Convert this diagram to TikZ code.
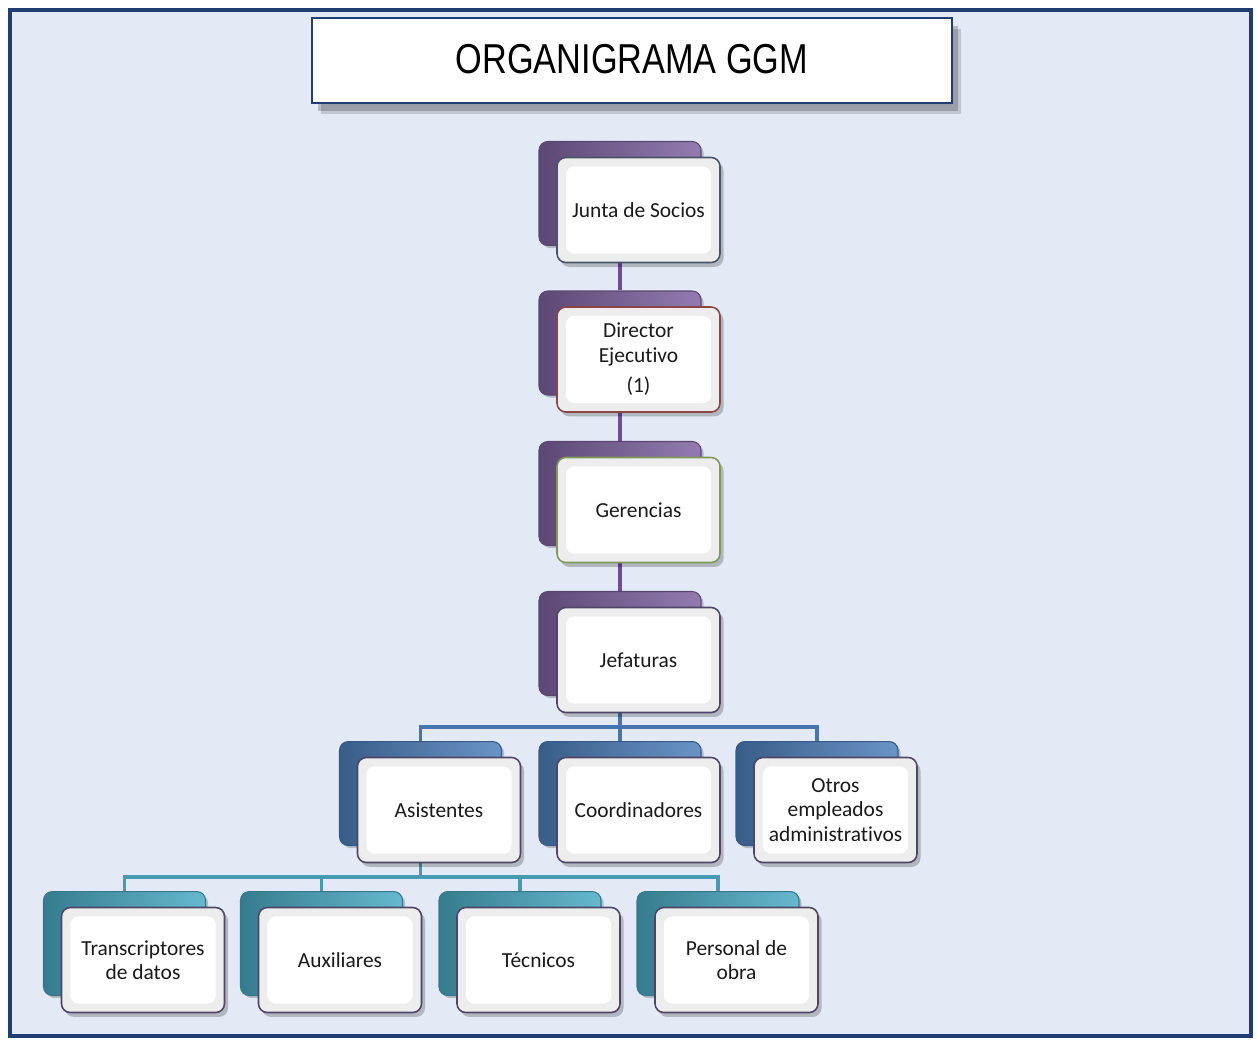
\documentclass[tikz,border=0pt]{standalone}
\usepackage{fontspec}
\setmainfont{Carlito}[Ligatures=NoCommon]
\newfontfamily\titlefont{Liberation Sans}
\usetikzlibrary{shadows}
\pgfdeclarelayer{bglayer}
\pgfdeclarelayer{connlayer}
\pgfsetlayers{bglayer,connlayer,main}
\definecolor{bgblue}{HTML}{E3EAF6}
\definecolor{frameblue}{HTML}{1F3F74}
\definecolor{purp}{HTML}{8064A2}
\definecolor{purpline}{HTML}{7347A6}
\definecolor{blu}{HTML}{4F81BD}
\definecolor{teal2}{HTML}{4BACC6}
\definecolor{bdgray}{HTML}{4A5468}
\definecolor{bdred}{HTML}{8A4545}
\definecolor{bdgreen}{HTML}{7F9A55}
\definecolor{bdpurp}{HTML}{4E4666}
\definecolor{txt}{HTML}{1A1A1A}
\tikzset{
  backbox/.style={rounded corners=5pt, minimum width=3.24cm, minimum height=2.08cm,
    draw=#1!70!black, line width=0.6pt, left color=#1!72!black, middle color=#1, right color=#1!85!white,
    drop shadow={shadow xshift=1.5pt, shadow yshift=-1.5pt, opacity=0.2, fill=black}},
  frontbox/.style={rounded corners=5pt, minimum width=3.26cm, minimum height=2.1cm,
    draw=#1, line width=0.9pt, fill=black!7, align=center, text=txt,
    font=\fontsize{12.2}{13.8}\selectfont,
    drop shadow={shadow xshift=2pt, shadow yshift=-2.5pt, opacity=0.22, fill=black},
    path picture={\fill[white] ([shift={(5pt,-5pt)}]path picture bounding box.north west)
      rectangle ([shift={(-5pt,5pt)}]path picture bounding box.south east);}},
  titlebox/.style={draw=frameblue, line width=1.2pt, fill=white,
    minimum width=12.8cm, minimum height=1.7cm,
    drop shadow={shadow xshift=5pt, shadow yshift=-6pt, opacity=0.15, fill=black},
    drop shadow={shadow xshift=3.5pt, shadow yshift=-4.5pt, opacity=0.2, fill=black}},
  connpurp/.style={draw=purpline, line width=2.2pt},
  connblue/.style={draw=blu!90!black, line width=1.8pt},
  connteal/.style={draw=teal2!90!black, line width=1.8pt}
}
\newcommand\orgnode[6]{%
  \node[backbox=#4] (#1-b) at (#2-18.5,#3-16.5) {};
  \node[frontbox=#5] (#1) at (#2,#3) {#6};
}
\begin{document}
\begin{tikzpicture}[x=0.02cm,y=-0.02cm]
\useasboundingbox (0,0) rectangle (1257,1039);
\begin{pgfonlayer}{bglayer}
  \fill[white] (0,0) rectangle (1257,1039);
  \fill[bgblue] (10,10) rectangle (1251,1036);
  \draw[frameblue, line width=2.6pt] (10,10) rectangle (1251,1036);
\end{pgfonlayer}

\node[titlebox] (title) at (632,60.5) {\titlefont\fontsize{23.8}{28}\selectfont\raisebox{2pt}{\scalebox{0.82}[1]{ORGANIGRAMA GGM}}};

\orgnode{junta}{638.5}{210}{purp}{bdgray}{Junta de Socios}
\orgnode{dir}{638.5}{359.5}{purp}{bdred}{Director\\ Ejecutivo\\[3.8pt](1)}
\orgnode{ger}{638.5}{510}{purp}{bdgreen}{Gerencias}
\orgnode{jef}{638.5}{660}{purp}{bdpurp}{Jefaturas}

\orgnode{asis}{439}{810}{blu}{bdpurp}{Asistentes}
\orgnode{coord}{638.5}{810}{blu}{bdpurp}{Coordinadores}
\orgnode{otros}{835.5}{810}{blu}{bdpurp}{Otros\\ empleados\\ administrativos}

\orgnode{trans}{143}{960}{teal2}{bdpurp}{Transcriptores\\ de datos}
\orgnode{aux}{340}{960}{teal2}{bdpurp}{Auxiliares}
\orgnode{tec}{538.5}{960}{teal2}{bdpurp}{Técnicos}
\orgnode{pers}{736.5}{960}{teal2}{bdpurp}{Personal de\\ obra}

\coordinate (bus1) at (620,727);
\coordinate (bus2) at (420.5,877);
\begin{pgfonlayer}{connlayer}
  \draw[connpurp] (junta-b.south) -- (dir-b.north);
  \draw[connpurp] (dir-b.south) -- (ger-b.north);
  \draw[connpurp] (ger-b.south) -- (jef-b.north);
  \draw[connblue] (jef-b.south) -- (bus1);
  \draw[connblue] (bus1) -| (asis-b.north);
  \draw[connblue] (bus1) -- (coord-b.north);
  \draw[connblue] (bus1) -| (otros-b.north);
  \draw[connteal] (asis-b.south) -- (bus2);
  \draw[connteal] (bus2) -| (trans-b.north);
  \draw[connteal] (bus2) -| (aux-b.north);
  \draw[connteal] (bus2) -| (tec-b.north);
  \draw[connteal] (bus2) -| (pers-b.north);
\end{pgfonlayer}
\end{tikzpicture}
\end{document}
